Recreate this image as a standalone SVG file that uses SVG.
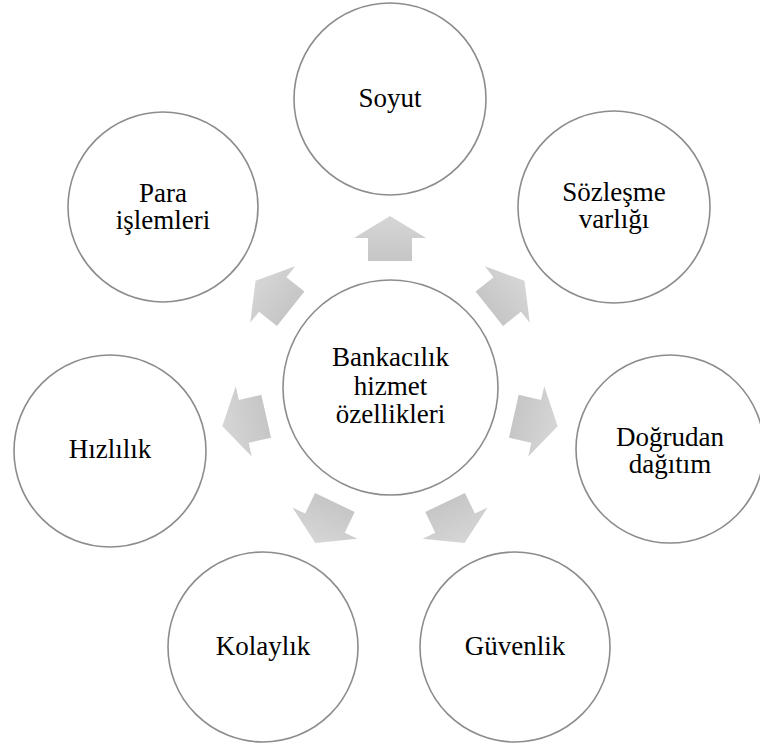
<svg xmlns="http://www.w3.org/2000/svg" width="760" height="751" viewBox="0 0 760 751">
<style>
.node{fill:#ffffff;stroke:#8c8c8c;stroke-width:1.6}
.lbl{font-family:"Liberation Serif","Times New Roman",serif;font-size:27px;fill:#000000;text-anchor:middle}
.arr{fill:url(#ag)}
</style>
<defs>
<linearGradient id="ag" gradientUnits="userSpaceOnUse" x1="390" y1="216" x2="390" y2="261">
<stop offset="0" stop-color="#d6d6d6"/>
<stop offset="1" stop-color="#c6c6c6"/>
</linearGradient>
<path id="arrow" d="M390,216 L426,238 L412,238 L412,261 L368,261 L368,238 L354,238 Z"/>
</defs>
<rect width="760" height="751" fill="#ffffff"/>
<g id="connectors">
<use href="#arrow" class="arr" transform="rotate(0 390 388)"/>
<use href="#arrow" class="arr" transform="rotate(51.4286 390 388)"/>
<use href="#arrow" class="arr" transform="rotate(102.857 390 388)"/>
<use href="#arrow" class="arr" transform="rotate(154.286 390 388)"/>
<use href="#arrow" class="arr" transform="rotate(205.714 390 388)"/>
<use href="#arrow" class="arr" transform="rotate(257.143 390 388)"/>
<use href="#arrow" class="arr" transform="rotate(308.571 390 388)"/>
</g>
<g id="center">
<circle class="node" cx="390.5" cy="387.5" r="107.5"/>
<text class="lbl" x="390.5" y="366">Bankacılık</text>
<text class="lbl" x="390.5" y="394.5">hizmet</text>
<text class="lbl" x="390.5" y="423">özellikleri</text>
</g>
<g id="soyut">
<circle class="node" cx="390" cy="99" r="96"/>
<text class="lbl" x="390" y="107">Soyut</text>
</g>
<g id="sozlesme">
<circle class="node" cx="614" cy="207" r="96"/>
<text class="lbl" x="614" y="201">Sözleşme</text>
<text class="lbl" x="614" y="228">varlığı</text>
</g>
<g id="dogrudan">
<circle class="node" cx="670" cy="449" r="94"/>
<text class="lbl" x="670" y="446">Doğrudan</text>
<text class="lbl" x="670" y="473">dağıtım</text>
</g>
<g id="guvenlik">
<circle class="node" cx="515" cy="647" r="95"/>
<text class="lbl" x="515" y="655">Güvenlik</text>
</g>
<g id="kolaylik">
<circle class="node" cx="263" cy="647" r="95"/>
<text class="lbl" x="263" y="655">Kolaylık</text>
</g>
<g id="hizlilik">
<circle class="node" cx="110" cy="451" r="96"/>
<text class="lbl" x="110" y="458">Hızlılık</text>
</g>
<g id="para">
<circle class="node" cx="163" cy="207" r="95"/>
<text class="lbl" x="163" y="202">Para</text>
<text class="lbl" x="163" y="229">işlemleri</text>
</g>
</svg>
